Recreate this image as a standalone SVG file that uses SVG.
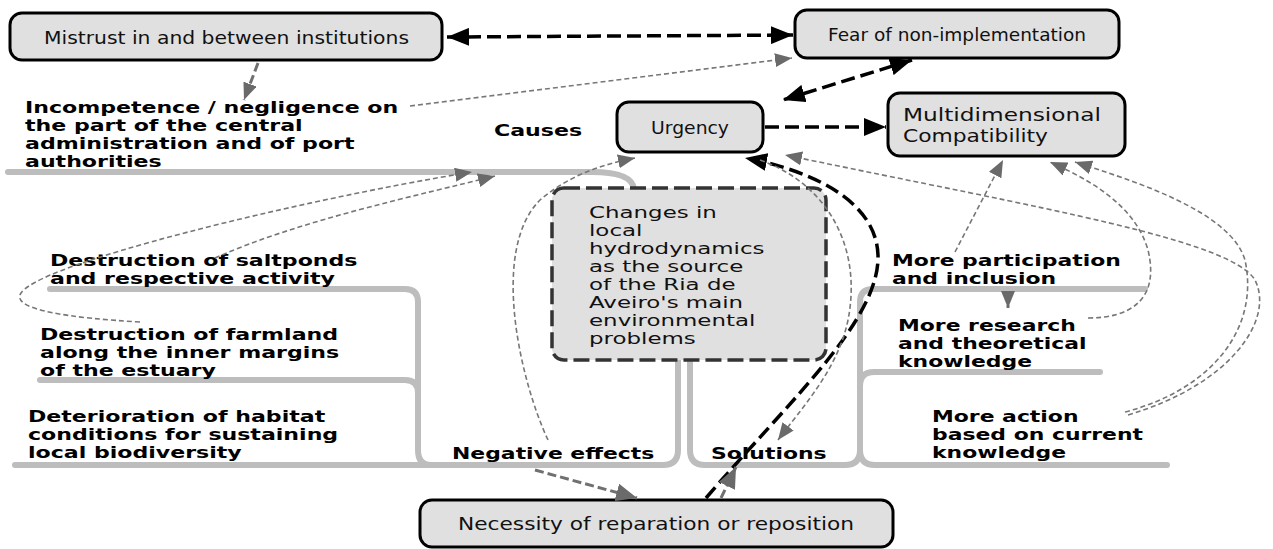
<svg xmlns="http://www.w3.org/2000/svg" width="1273" height="549" viewBox="0 0 1273 549">
<defs>
<style>
.box{fill:#e0e0e0;stroke:#000;stroke-width:3}
.dbox{fill:#e0e0e0;stroke:#333;stroke-width:3.5;stroke-dasharray:16 6}
.bl{font-family:"DejaVu Sans",sans-serif;font-size:17px;fill:#111}
.cl{font-family:"DejaVu Sans",sans-serif;font-size:16.5px;fill:#111}
.fl{font-family:"DejaVu Sans",sans-serif;font-size:16px;font-weight:bold;fill:#000}
.tree{fill:none;stroke:#bdbdbd;stroke-width:6;stroke-linecap:round;stroke-linejoin:round}
.bk{fill:none;stroke:#000;stroke-width:3.5;stroke-dasharray:14 6}
.gt{fill:none;stroke:#777;stroke-width:1.6;stroke-dasharray:5 3}
.gk{fill:none;stroke:#707070;stroke-width:3;stroke-dasharray:9 4}
</style>
<marker id="ab" markerUnits="userSpaceOnUse" markerWidth="24" markerHeight="18" refX="22" refY="9" orient="auto-start-reverse"><path d="M0,0 L22,9 L0,18 z" fill="#000"/></marker>
<marker id="ag" markerUnits="userSpaceOnUse" markerWidth="18" markerHeight="14" refX="17" refY="7" orient="auto-start-reverse"><path d="M0,0 L17,7 L0,14 z" fill="#6a6a6a"/></marker>
<marker id="agb" markerUnits="userSpaceOnUse" markerWidth="22" markerHeight="18" refX="21" refY="9" orient="auto"><path d="M0,0 L21,9 L0,18 z" fill="#6a6a6a"/></marker>
</defs>

<g id="trees">
<path class="tree" d="M8 172 H592 Q632 172 634 189"/>
<path class="tree" d="M50 289 H405 Q418 289 418 302 V450 Q418 465 431 465 H663 Q678 465 678 450 V360"/>
<path class="tree" d="M40 380 H405 Q418 380 418 393"/>
<path class="tree" d="M15 465 H431"/>
<path class="tree" d="M690 360 V450 Q690 465 705 465 H845 Q860 465 860 450 V302 Q860 289 873 289 H1145"/>
<path class="tree" d="M860 386 Q860 372 874 372 H1100"/>
<path class="tree" d="M860 450 Q860 465 875 465 H1167"/>
</g>

<g id="mistrust"><rect class="box" x="10" y="13" width="432" height="47" rx="12"/><text class="bl" x="44" y="44" textLength="365" lengthAdjust="spacingAndGlyphs">Mistrust in and between institutions</text></g>
<g id="fear"><rect class="box" x="795" y="10" width="324" height="48" rx="12"/><text class="bl" x="828" y="41" textLength="258" lengthAdjust="spacingAndGlyphs">Fear of non-implementation</text></g>
<g id="urgency"><rect class="box" x="617" y="102" width="146" height="50" rx="12"/><text class="bl" x="651" y="134" textLength="78" lengthAdjust="spacingAndGlyphs">Urgency</text></g>
<g id="multi"><rect class="box" x="888" y="93" width="237" height="63" rx="12"/><text class="bl" x="903" y="121" textLength="198" lengthAdjust="spacingAndGlyphs">Multidimensional</text><text class="bl" x="903" y="142" textLength="145" lengthAdjust="spacingAndGlyphs">Compatibility</text></g>
<g id="changes"><rect class="dbox" x="552" y="188" width="274" height="172" rx="12"/>
<text class="cl" transform="translate(589 0) scale(1.39 1)"><tspan x="0" y="218">Changes in</tspan><tspan x="0" y="236">local</tspan><tspan x="0" y="254">hydrodynamics</tspan><tspan x="0" y="272">as the source</tspan><tspan x="0" y="290">of the Ria de</tspan><tspan x="0" y="308">Aveiro's main</tspan><tspan x="0" y="326">environmental</tspan><tspan x="0" y="344">problems</tspan></text></g>
<g id="necessity"><rect class="box" x="420" y="500" width="473" height="47" rx="12"/><text class="bl" x="458" y="530" textLength="396" lengthAdjust="spacingAndGlyphs">Necessity of reparation or reposition</text></g>

<g id="incompetence"><text class="fl" transform="translate(25 0) scale(1.38 1)"><tspan x="0" y="113">Incompetence / negligence on</tspan><tspan x="0" y="131">the part of the central</tspan><tspan x="0" y="149">administration and of port</tspan><tspan x="0" y="167">authorities</tspan></text></g>
<g id="causes"><text class="fl" transform="translate(494 0) scale(1.38 1)" x="0" y="136">Causes</text></g>
<g id="saltponds"><text class="fl" transform="translate(50 0) scale(1.38 1)"><tspan x="0" y="266">Destruction of saltponds</tspan><tspan x="0" y="284">and respective activity</tspan></text></g>
<g id="farmland"><text class="fl" transform="translate(40 0) scale(1.38 1)"><tspan x="0" y="340">Destruction of farmland</tspan><tspan x="0" y="358">along the inner margins</tspan><tspan x="0" y="376">of the estuary</tspan></text></g>
<g id="habitat"><text class="fl" transform="translate(28 0) scale(1.38 1)"><tspan x="0" y="422">Deterioration of habitat</tspan><tspan x="0" y="440">conditions for sustaining</tspan><tspan x="0" y="458">local biodiversity</tspan></text></g>
<g id="negative"><text class="fl" transform="translate(452 0) scale(1.37 1)" x="0" y="459">Negative effects</text></g>
<g id="solutions"><text class="fl" transform="translate(711 0) scale(1.37 1)" x="0" y="459">Solutions</text></g>
<g id="participation"><text class="fl" transform="translate(892 0) scale(1.37 1)"><tspan x="0" y="266">More participation</tspan><tspan x="0" y="284">and inclusion</tspan></text></g>
<g id="research"><text class="fl" transform="translate(898 0) scale(1.37 1)"><tspan x="0" y="331">More research</tspan><tspan x="0" y="349">and theoretical</tspan><tspan x="0" y="367">knowledge</tspan></text></g>
<g id="action"><text class="fl" transform="translate(932 0) scale(1.37 1)"><tspan x="0" y="422">More action</tspan><tspan x="0" y="440">based on current</tspan><tspan x="0" y="458">knowledge</tspan></text></g>

<g id="connectors">
<path class="bk" d="M447 37 L793 35" marker-start="url(#ab)" marker-end="url(#ab)"/>
<path class="bk" d="M912 60 L783 100" marker-start="url(#ab)" marker-end="url(#ab)"/>
<path class="bk" d="M765 127 L886 127" marker-end="url(#ab)"/>
<path class="bk" d="M706 498 C790 400 880 320 878 255 C876 200 810 170 745 158" marker-end="url(#ab)"/>
<path class="gk" d="M258 63 L244 100" marker-end="url(#ag)"/>
<path class="gt" d="M410 106 L792 58" marker-end="url(#ag)"/>
<path class="gt" d="M215 258 C300 220 420 195 495 176" marker-end="url(#ag)"/>
<path class="gt" d="M140 322 C70 318 15 310 20 295 C30 265 300 200 472 172" marker-end="url(#ag)"/>
<path class="gt" d="M548 440 C520 380 490 250 540 200 C570 175 600 165 635 158" marker-end="url(#ag)"/>
<path class="gt" d="M760 160 C830 185 862 250 848 320 C838 370 800 410 778 440" marker-end="url(#ag)"/>
<path class="gk" d="M535 470 L637 498" marker-end="url(#agb)"/>
<path class="gk" d="M721 498 L736 467" marker-end="url(#agb)"/>
<path class="gt" d="M955 252 L1003 160" marker-end="url(#ag)"/>
<path class="gk" d="M1008 292 L1008 308" marker-end="url(#ag)"/>
<path class="gt" d="M1088 318 C1130 318 1160 300 1148 250 C1135 205 1090 180 1050 162" marker-end="url(#ag)"/>
<path class="gt" d="M1125 412 C1210 390 1260 330 1245 260 C1230 210 1130 180 1075 162" marker-end="url(#ag)"/>
<path class="gt" d="M1128 415 C1230 385 1275 320 1255 280 C1230 240 1050 210 785 155" marker-end="url(#ag)"/>
</g>
</svg>
